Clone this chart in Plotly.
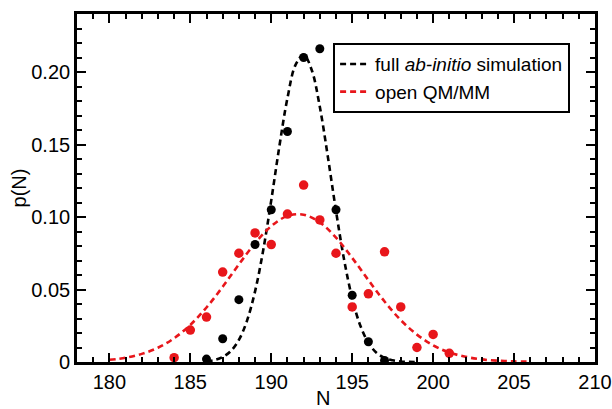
import plotly.graph_objects as go

# ---- data ----
N_pts = [186, 187, 188, 189, 190, 191, 192, 193, 194, 195, 196, 197]
p_abinitio = [0.002, 0.016, 0.043, 0.081, 0.105, 0.159, 0.210, 0.216, 0.105, 0.046, 0.014, 0.001]

N_red = [184, 185, 186, 187, 188, 189, 190, 191, 192, 193, 194, 195, 196, 197, 198, 199, 200, 201]
p_qmmm = [0.003, 0.022, 0.031, 0.062, 0.075, 0.089, 0.081, 0.102, 0.122, 0.098, 0.075, 0.038,
          0.047, 0.076, 0.038, 0.010, 0.019, 0.006]

# dashed fit curves
N_fit_black = [186.0, 186.5, 187.0, 187.5, 188.0, 188.5, 189.0, 189.5, 190.0, 190.5, 191.0,
               191.5, 192.0, 192.5, 193.0, 193.5, 194.0, 194.5, 195.0, 195.5, 196.0, 196.5,
               197.0, 197.5, 198.0, 198.5, 199.0]
p_fit_black = [0.0005, 0.0014, 0.0034, 0.0075, 0.0152, 0.0284, 0.0487, 0.0769, 0.1115, 0.1486,
               0.1820, 0.2049, 0.2119, 0.2014, 0.1760, 0.1413, 0.1042, 0.0706, 0.0440, 0.0252,
               0.0133, 0.0064, 0.0028, 0.0012, 0.0004, 0.0001, 0.0000]

N_fit_red = [180, 181, 182, 183, 184, 185, 186, 187, 188, 189, 190, 191, 192, 193, 194, 195,
             196, 197, 198, 199, 200, 201, 202, 203, 204, 205, 206]
p_fit_red = [0.0015, 0.0029, 0.0056, 0.0098, 0.0164, 0.0256, 0.0376, 0.0519, 0.0673, 0.0819,
             0.0937, 0.1007, 0.1016, 0.0963, 0.0858, 0.0718, 0.0565, 0.0417, 0.0289, 0.0189,
             0.0115, 0.0066, 0.0036, 0.0018, 0.0009, 0.0004, 0.0002]

x_ticks = [180, 185, 190, 195, 200, 205, 210]
y_ticks = [0, 0.05, 0.10, 0.15, 0.20]
y_ticktext = ["0", "0.05", "0.10", "0.15", "0.20"]
x_title = "N"
y_title = "p(N)"

BLACK = "#000000"
RED = "#e8161b"
FONT = "Liberation Sans"
FS = 20

fig = go.Figure()

fig.add_trace(go.Scatter(
    x=N_fit_black, y=p_fit_black, mode="lines", line_shape="spline",
    line=dict(color=BLACK, width=2.6, dash="6px,4px"),
    name="full <i>ab-initio</i> simulation"))
fig.add_trace(go.Scatter(
    x=N_fit_red, y=p_fit_red, mode="lines", line_shape="spline",
    line=dict(color=RED, width=2.6, dash="6px,4px"),
    name="open QM/MM"))
fig.add_trace(go.Scatter(
    x=N_pts, y=p_abinitio, mode="markers", showlegend=False, cliponaxis=False,
    marker=dict(color=BLACK, size=9, line=dict(width=0))))
fig.add_trace(go.Scatter(
    x=N_red, y=p_qmmm, mode="markers", showlegend=False, cliponaxis=False,
    marker=dict(color=RED, size=9.5, line=dict(width=0))))

axis_common = dict(
    showline=True, linecolor=BLACK, linewidth=2.6, mirror="allticks",
    ticks="inside", ticklen=9, tickwidth=2, tickcolor=BLACK,
    showgrid=False, zeroline=False, automargin=False,
    tickfont=dict(family=FONT, size=FS, color=BLACK),
)

fig.update_xaxes(
    range=[178, 210], tickvals=x_ticks,
    minor=dict(dtick=1, ticks="inside", ticklen=5, tickwidth=2, tickcolor=BLACK, showgrid=False),
    **axis_common)
fig.update_yaxes(
    range=[0, 0.24], tickvals=y_ticks, ticktext=y_ticktext,
    minor=dict(dtick=0.01, tick0=0, ticks="inside", ticklen=5, tickwidth=2, tickcolor=BLACK, showgrid=False),
    title=dict(text=y_title, font=dict(family=FONT, size=FS, color=BLACK), standoff=0),
    **axis_common)

fig.add_annotation(
    text=x_title, xref="paper", yref="paper", x=0.475, y=-0.068,
    xanchor="center", yanchor="top", showarrow=False, borderpad=0,
    font=dict(family=FONT, size=FS, color=BLACK))

fig.update_layout(
    width=612, height=409,
    margin=dict(l=77, r=17, t=14, b=47, pad=0),
    plot_bgcolor="white", paper_bgcolor="white",
    font=dict(family=FONT, size=FS, color=BLACK),
    showlegend=True,
    legend=dict(
        x=0.494, y=0.917, xanchor="left", yanchor="top",
        bgcolor="white", bordercolor=BLACK, borderwidth=2.2,
        font=dict(family=FONT, size=19, color=BLACK),
        tracegroupgap=0, itemwidth=30,
    ),
)

fig.write_html("out.html")
